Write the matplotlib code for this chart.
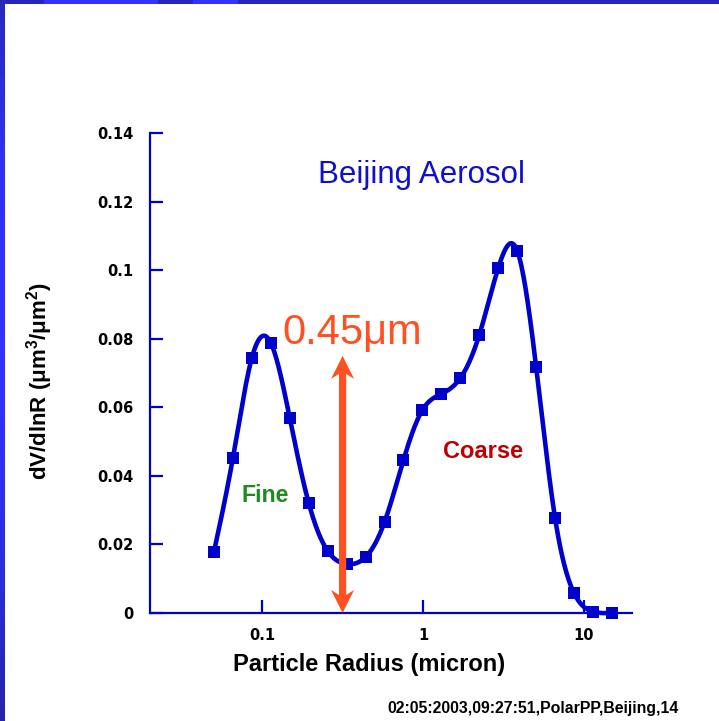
import numpy as np
import matplotlib.pyplot as plt
from matplotlib.patches import Polygon
from matplotlib.transforms import IdentityTransform

plt.rcParams["font.family"] = ["Liberation Sans", "DejaVu Sans"]
plt.rcParams["mathtext.fontset"] = "custom"
plt.rcParams["mathtext.rm"] = "Liberation Sans"
plt.rcParams["mathtext.bf"] = "Liberation Sans:bold"

# volume size distribution, 22 radius bins
radius = [0.05, 0.065604, 0.086077, 0.112939, 0.148184, 0.194429, 0.255105,
          0.334716, 0.439173, 0.576227, 0.756052, 0.991992, 1.301571, 1.707757,
          2.240702, 2.939966, 3.857452, 5.061260, 6.640745, 8.713145,
          11.432287, 15.0]
dvdlnr = [0.0178, 0.0452, 0.0744, 0.0788, 0.0569, 0.0321, 0.0181, 0.0143,
          0.0163, 0.0265, 0.0446, 0.0592, 0.0639, 0.0685, 0.0811, 0.1006,
          0.1057, 0.0718, 0.0277, 0.0058, 0.0004, 0.0]

yticks = [0, 0.02, 0.04, 0.06, 0.08, 0.1, 0.12, 0.14]
yticklabels = ["0", "0.02", "0.04", "0.06", "0.08", "0.1", "0.12", "0.14"]
xticks = [0.1, 1, 10]
xticklabels = ["0.1", "1", "10"]

# fine/coarse split marked with the arrow
split_r = 0.316
split_top = 0.075

blue = "#0000CC"
orange = "#FF5022"


def natural_spline(u, v, uu):
    # natural cubic spline, used only to draw a smooth line through the points
    u = np.asarray(u, float)
    v = np.asarray(v, float)
    n = len(u)
    h = np.diff(u)
    A = np.zeros((n, n))
    b = np.zeros(n)
    A[0, 0] = A[-1, -1] = 1.0
    for i in range(1, n - 1):
        A[i, i - 1] = h[i - 1]
        A[i, i] = 2 * (h[i - 1] + h[i])
        A[i, i + 1] = h[i]
        b[i] = 6 * ((v[i + 1] - v[i]) / h[i] - (v[i] - v[i - 1]) / h[i - 1])
    M = np.linalg.solve(A, b)
    k = np.clip(np.searchsorted(u, uu) - 1, 0, n - 2)
    t0 = u[k + 1] - uu
    t1 = uu - u[k]
    hk = h[k]
    return (M[k] * t0**3 / (6 * hk) + M[k + 1] * t1**3 / (6 * hk)
            + (v[k] / hk - M[k] * hk / 6) * t0
            + (v[k + 1] / hk - M[k + 1] * hk / 6) * t1)


fig = plt.figure(figsize=(7.19, 7.21), dpi=100)
ax = fig.add_axes([150 / 719, 108 / 721, 482 / 719, 480 / 721])

lr = np.log10(radius)
lr_fine = np.linspace(lr[0], lr[-1], 600)
ax.plot(10**lr_fine, natural_spline(lr, dvdlnr, lr_fine), color=blue, lw=3.3,
        solid_capstyle="round", clip_on=False, zorder=3)
ax.plot(radius, dvdlnr, "s", color=blue, ms=8.8, mew=0, clip_on=False, zorder=4)

ax.set_xscale("log")
ax.set_xlim(0.02, 20)
ax.set_ylim(0, 0.14)
ax.set_xticks(xticks)
ax.set_xticklabels(xticklabels)
ax.set_yticks(yticks)
ax.set_yticklabels(yticklabels)
ax.minorticks_off()

for side in ["top", "right"]:
    ax.spines[side].set_visible(False)
for side in ["left", "bottom"]:
    ax.spines[side].set_color(blue)
    ax.spines[side].set_linewidth(1.6)
ax.tick_params(direction="in", length=9.5, width=1.6, color=blue,
               labelsize=10.5, labelcolor="black")
ax.tick_params(axis="y", pad=12)
ax.tick_params(axis="x", pad=11)
for lab in ax.get_xticklabels() + ax.get_yticklabels():
    lab.set_family("DejaVu Sans")
    lab.set_fontweight("bold")

ax.set_xlabel("Particle Radius (micron)", fontsize=17, fontweight="bold")
ax.xaxis.set_label_coords(0.454, -0.083)
ax.set_ylabel(r"dV/dlnR (μm$^\mathbf{3}$/μm$^\mathbf{2}$)", fontsize=16,
              fontweight="bold")
ax.yaxis.set_label_coords(-0.198, 0.484)

ax.text(0.985, 0.1254, "Beijing Aerosol", color="#1010CC", fontsize=22.5,
        ha="center", va="baseline")
ax.text(0.133, 0.0785, "0.45μm", color=orange, fontsize=30, ha="left",
        va="baseline", zorder=6)
ax.text(0.1044, 0.0344, "Fine", color="#1F8B1F", fontsize=16.7,
        fontweight="bold", ha="center", va="center")
ax.text(2.35, 0.0471, "Coarse", color="#C00000", fontsize=17,
        fontweight="bold", ha="center", va="center")

# double-headed arrow, built in pixels around the data end points
x0, yt = ax.transData.transform((split_r, split_top))
_, yb = ax.transData.transform((split_r, 0))
hw, hl, notch, sw = 11.5, 23, 5, 3.6
pts = [(x0, yt), (x0 + hw, yt - hl), (x0 + sw, yt - hl + notch),
       (x0 + sw, yb + hl - notch), (x0 + hw, yb + hl), (x0, yb),
       (x0 - hw, yb + hl), (x0 - sw, yb + hl - notch),
       (x0 - sw, yt - hl + notch), (x0 - hw, yt - hl)]
ax.add_patch(Polygon(pts, closed=True, facecolor=orange, edgecolor="none",
                     transform=IdentityTransform(), clip_on=False, zorder=5))

fig.text(387 / 719, 8 / 721, "02:05:2003,09:27:51,PolarPP,Beijing,14",
         fontsize=11.4, fontweight="bold", ha="left", va="baseline")

# slide frame: shaded bar on the left, striped band on top
stops_y = [0, 150, 350, 550, 720]
stops_c = np.array([[40, 40, 190], [48, 48, 240], [51, 51, 255],
                    [45, 45, 230], [36, 36, 168]]) / 255
rows = np.arange(721)
grad = np.stack([np.interp(rows, stops_y, stops_c[:, c]) for c in range(3)], axis=1)
left_bar = np.repeat(grad[:, None, :], 5, axis=1)
fig.figimage(left_bar, xo=0, yo=0, zorder=10)

top_band = np.tile(np.array([38, 38, 190]) / 255, (4, 719, 1))
top_band[:, 44:158] = np.array([51, 51, 255]) / 255
top_band[:, 193:238] = np.array([51, 51, 255]) / 255
top_band[:, :5] = stops_c[0]
fig.figimage(top_band, xo=0, yo=717, zorder=10)

fig.savefig("out.png", dpi=100)
